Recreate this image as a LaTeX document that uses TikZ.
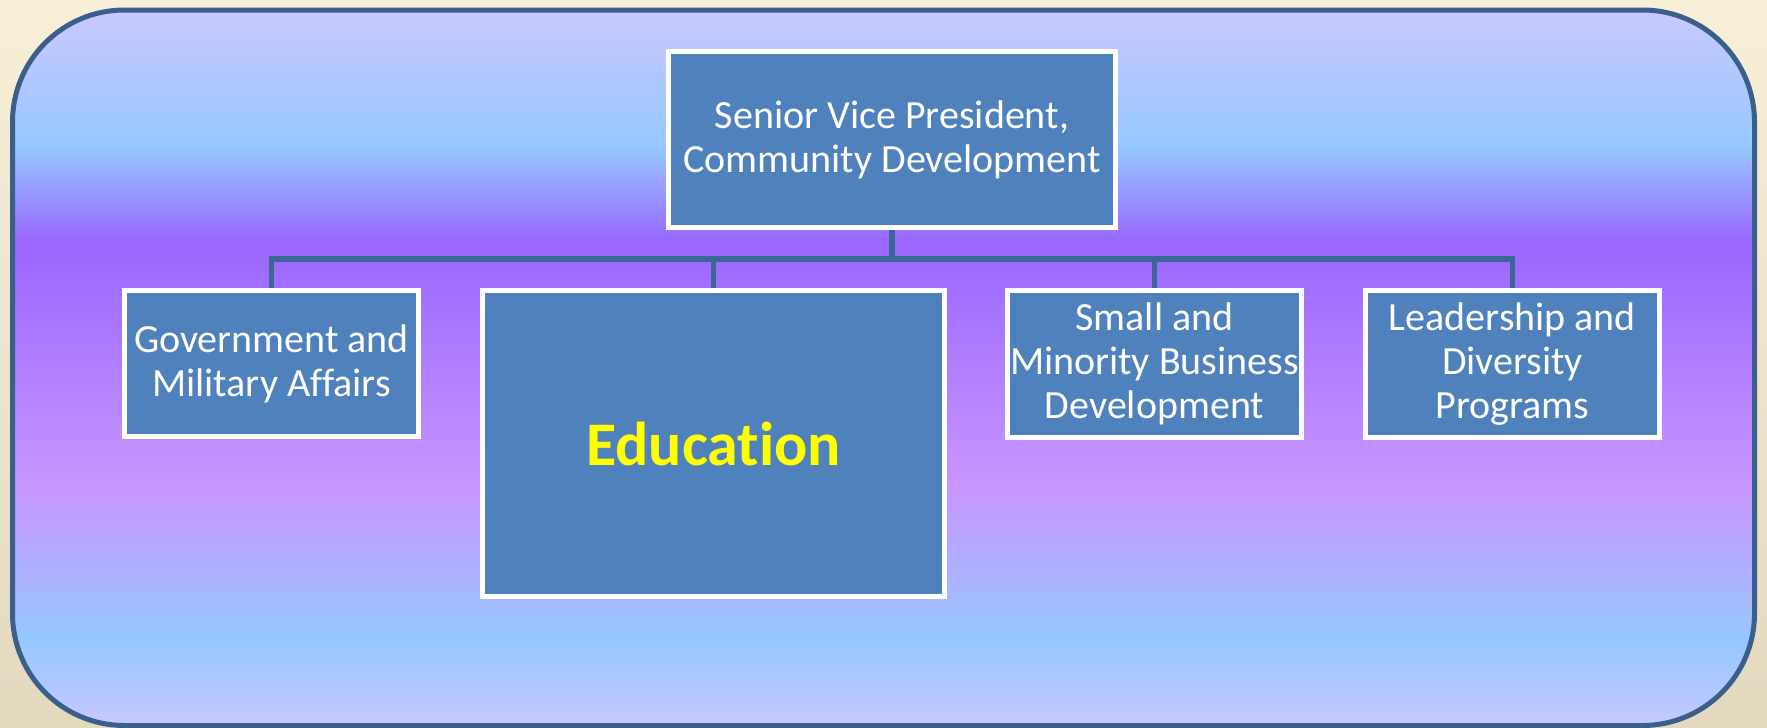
\documentclass[tikz,border=0pt]{standalone}
\usepackage{fontspec}
\setmainfont{Carlito}[Ligatures=NoCommon]
\definecolor{boxFill}{HTML}{4F81BD}
\definecolor{linkBlue}{HTML}{3C6696}
\definecolor{frameBlue}{HTML}{3A5F8B}
\definecolor{eduYellow}{HTML}{FFFF00}
\definecolor{paperTop}{HTML}{F8EFD9}
\definecolor{paperBot}{HTML}{E2D9BF}
\definecolor{gradA}{HTML}{CDC8FF}
\definecolor{gradB}{HTML}{96C8FF}
\definecolor{gradC}{HTML}{9966FF}
\definecolor{gradD}{HTML}{C896FF}
\definecolor{gradE}{HTML}{C8C8FF}
\begin{document}
\begin{tikzpicture}[x=0.5pt,y=-0.5pt,
    unitBox/.style={draw=white,line width=2.5pt,fill=boxFill,text=white,align=center,
        inner sep=0pt,font=\fontsize{20}{22}\selectfont},
    link/.style={draw=linkBlue,line width=2.8pt}]
    \useasboundingbox (0,0) rectangle (1767,728);
    \shade[top color=paperTop,bottom color=paperBot] (0,0) rectangle (1767,728);
    \begin{scope}
        \clip[rounded corners=56pt] (12.5,10) rectangle (1754.5,725.5);
        \foreach \yTop/\yBot/\cTop/\cBot in {0/146/gradA/gradB,146/242/gradB/gradC,242/485/gradC/gradD,485/642/gradD/gradB,642/728/gradB/gradE} {
            \shade[top color=\cTop,bottom color=\cBot] (0,\yTop-0.5) rectangle (1767,\yBot+0.5);
        }
    \end{scope}
    \draw[frameBlue,line width=2.5pt,rounded corners=56pt] (12.5,10) rectangle (1754.5,725.5);

    \node[unitBox,minimum width=223.5pt,minimum height=88pt] (svp) at (892,139.5) {Senior Vice President,\\Community Development};
    \node[unitBox,minimum width=147pt,minimum height=73pt] (gov) at (271.5,363.5) {Government and\\Military Affairs};
    \node[unitBox,minimum width=231pt,minimum height=153pt,text=eduYellow,
        font=\bfseries\fontsize{31}{34}\selectfont] (edu) at (713.5,443.5) {Education};
    \node[unitBox,minimum width=147pt,minimum height=73.5pt] (small) at (1154.5,364) {Small and\\Minority Business\\Development};
    \node[unitBox,minimum width=147pt,minimum height=73.5pt] (lead) at (1512.5,364) {Leadership and\\Diversity\\Programs};

    \coordinate (bus) at (892,259);
    \draw[link] (svp.south) -- (bus);
    \foreach \unit in {gov,edu,small,lead} {
        \draw[link] (bus) -| (\unit.north);
    }
\end{tikzpicture}
\end{document}
